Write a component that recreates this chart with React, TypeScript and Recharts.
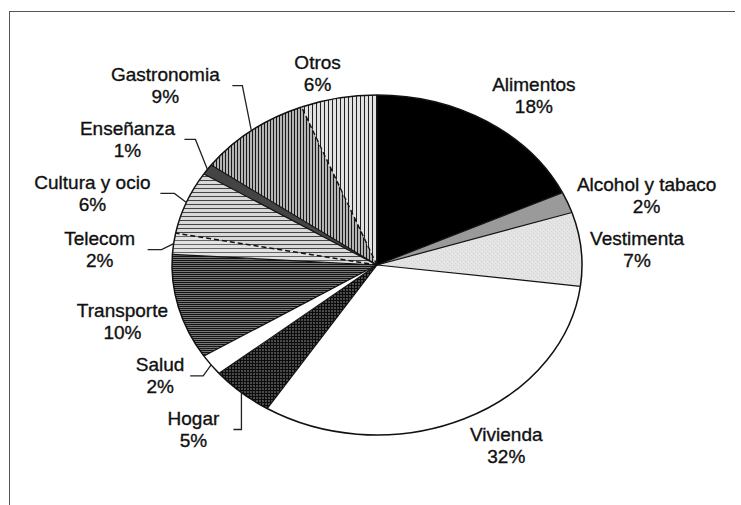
import React from 'react';
import { PieChart, Pie, Cell } from 'recharts';

// ---- data ----
const CATEGORIES = [
  'Alimentos',
  'Alcohol y tabaco',
  'Vestimenta',
  'Vivienda',
  'Hogar',
  'Salud',
  'Transporte',
  'Telecom',
  'Cultura y ocio',
  'Enseñanza',
  'Gastronomia',
  'Otros',
];
const SHARES = [18, 2, 7, 32, 5, 2, 10, 2, 6, 1, 9, 6];

const rows = CATEGORIES.map((name, i) => ({ name, value: SHARES[i] }));

// ---- styles / layout ----
const FILLS: Record<string, string> = {
  Alimentos: '#000000',
  'Alcohol y tabaco': '#9a9a9a',
  Vestimenta: 'url(#pVest)',
  Vivienda: '#ffffff',
  Hogar: 'url(#pHogar)',
  Salud: '#ffffff',
  Transporte: 'url(#pTrans)',
  Telecom: 'url(#pTele)',
  'Cultura y ocio': 'url(#pCult)',
  'Enseñanza': '#444444',
  Gastronomia: 'url(#pGastro)',
  Otros: 'url(#pOtros)',
};
const DASHED_START = new Set(['Cultura y ocio', 'Otros']);

// label centre offset from the slice's edge point at its mid angle; optional leader [start, elbow] x offsets
const LABEL_LAYOUT: Record<string, { dx: number; dy: number; lead?: [number, number] }> = {
  Alimentos: { dx: 47, dy: -26 },
  'Alcohol y tabaco': { dx: 79, dy: -7 },
  Vestimenta: { dx: 56, dy: 0 },
  Vivienda: { dx: 42, dy: 27 },
  Hogar: { dx: -48, dy: 37, lead: [40, 48] },
  Salud: { dx: -51, dy: 11, lead: [30, 43] },
  Transporte: { dx: -56, dy: 14 },
  Telecom: { dx: -74, dy: 6, lead: [48, 62] },
  'Cultura y ocio': { dx: -94, dy: -9, lead: [68, 82] },
  'Enseñanza': { dx: -80, dy: -30, lead: [57, 68] },
  Gastronomia: { dx: -86, dy: -45, lead: [67, 77] },
  Otros: { dx: -21, dy: -25 },
};

const W = 741;
const H = 505;
const CX = 377;
const CY = 265;
const RX = 205;
const RATIO = 170 / 205;
const FONT = '"Liberation Sans", Arial, Helvetica, sans-serif';

function pt(cx: number, cy: number, r: number, a: number): [number, number] {
  const rad = (-a * Math.PI) / 180;
  return [cx + r * Math.cos(rad), cy + r * RATIO * Math.sin(rad)];
}

function arcPath(props: any, closed: boolean) {
  const { cx, cy, outerRadius, startAngle, endAngle } = props;
  const [x1, y1] = pt(cx, cy, outerRadius, startAngle);
  const [x2, y2] = pt(cx, cy, outerRadius, endAngle);
  const large = Math.abs(endAngle - startAngle) > 180 ? 1 : 0;
  const sweep = endAngle < startAngle ? 1 : 0;
  const arc = `A${outerRadius},${outerRadius * RATIO} 0 ${large} ${sweep} ${x2},${y2}`;
  return closed ? `M${cx},${cy} L${x1},${y1} ${arc} Z` : `M${x1},${y1} ${arc}`;
}

function FillShape(props: any) {
  return <path d={arcPath(props, true)} fill={props.fill} stroke="none" />;
}

function OutlineShape(props: any) {
  const { cx, cy, outerRadius, startAngle } = props;
  const name = props.name ?? props.payload?.name;
  const [x1, y1] = pt(cx, cy, outerRadius, startAngle);
  const dashed = DASHED_START.has(name);
  return (
    <g>
      <path d={arcPath(props, false)} fill="none" stroke="#111" strokeWidth={1.5} />
      <line
        x1={cx}
        y1={cy}
        x2={x1}
        y2={y1}
        stroke="#111"
        strokeWidth={dashed ? 1.4 : 1.2}
        strokeDasharray={dashed ? '5 3' : undefined}
      />
    </g>
  );
}

function renderLabel(props: any) {
  const { cx, cy, midAngle, outerRadius, value } = props;
  const name = props.name ?? props.payload?.name;
  const lay = LABEL_LAYOUT[name];
  if (!lay) return null;
  const [ex, ey] = pt(cx, cy, outerRadius, midAngle);
  const lx = ex + lay.dx;
  const ly = ey + lay.dy;
  const textProps = {
    textAnchor: 'middle' as const,
    dominantBaseline: 'central' as const,
    fontFamily: FONT,
    fontSize: 19,
    fill: '#111',
    stroke: '#111',
    strokeWidth: 0.35,
  };
  return (
    <g>
      {lay.lead && (
        <polyline
          points={`${lx + lay.lead[0]},${ly} ${lx + lay.lead[1]},${ly} ${ex},${ey}`}
          fill="none"
          stroke="#222"
          strokeWidth={1.3}
        />
      )}
      <text x={lx} y={ly - 11} {...textProps}>
        {name}
      </text>
      <text x={lx} y={ly + 11} {...textProps}>
        {`${value}%`}
      </text>
    </g>
  );
}

export default function App() {
  return (
    <div style={{ position: 'absolute', left: 0, top: 0, width: W, height: H, background: '#fff', overflow: 'hidden' }}>
      <svg width={0} height={0} style={{ position: 'absolute' }}>
        <defs>
          <pattern id="pOtros" width={4} height={4} patternUnits="userSpaceOnUse">
            <rect width={4} height={4} fill="#e2e2e2" />
            <line x1={0.5} y1={0} x2={0.5} y2={4} stroke="#222" strokeWidth={1} />
          </pattern>
          <pattern id="pGastro" width={3} height={3} patternUnits="userSpaceOnUse">
            <rect width={3} height={3} fill="#b4b4b4" />
            <line x1={0.5} y1={0} x2={0.5} y2={3} stroke="#1a1a1a" strokeWidth={1} />
          </pattern>
          <pattern id="pCult" width={4} height={4} patternUnits="userSpaceOnUse">
            <rect width={4} height={4} fill="#d8d8d8" />
            <line x1={0} y1={0.5} x2={4} y2={0.5} stroke="#444" strokeWidth={1} />
          </pattern>
          <pattern id="pTele" width={4} height={4} patternUnits="userSpaceOnUse">
            <rect width={4} height={4} fill="#e2e2e2" />
            <line x1={0} y1={0.5} x2={4} y2={0.5} stroke="#666" strokeWidth={1} />
          </pattern>
          <pattern id="pTrans" width={2} height={2} patternUnits="userSpaceOnUse">
            <rect width={2} height={2} fill="#767676" />
            <line x1={0} y1={0.5} x2={2} y2={0.5} stroke="#151515" strokeWidth={1} />
          </pattern>
          <pattern id="pHogar" width={3} height={3} patternUnits="userSpaceOnUse">
            <rect width={3} height={3} fill="#4a4a4a" />
            <line x1={0} y1={0.5} x2={3} y2={0.5} stroke="#0c0c0c" strokeWidth={1} />
            <line x1={0.5} y1={0} x2={0.5} y2={3} stroke="#0c0c0c" strokeWidth={1} />
          </pattern>
          <pattern id="pVest" width={4} height={4} patternUnits="userSpaceOnUse">
            <rect width={4} height={4} fill="#e4e4e4" />
            <rect x={1} y={1} width={1} height={1} fill="#d0d0d0" />
            <rect x={3} y={3} width={1} height={1} fill="#d6d6d6" />
          </pattern>
        </defs>
      </svg>
      <div
        style={{
          position: 'absolute',
          left: 9,
          top: 11,
          width: 735 - 9,
          height: H,
          borderTop: '1.5px solid #555',
          borderLeft: '1.5px solid #555',
          boxSizing: 'border-box',
        }}
      />
      <div style={{ position: 'absolute', left: 0, top: 0 }}>
        <PieChart width={W} height={H} margin={{ top: 0, right: 0, bottom: 0, left: 0 }}>
          <Pie
            data={rows}
            dataKey="value"
            nameKey="name"
            cx={CX}
            cy={CY}
            outerRadius={RX}
            startAngle={90}
            endAngle={-270}
            stroke="none"
            shape={FillShape}
            label={renderLabel}
            labelLine={false}
            isAnimationActive={false}
          >
            {rows.map((r) => (
              <Cell key={r.name} fill={FILLS[r.name]} />
            ))}
          </Pie>
          <Pie
            data={rows}
            dataKey="value"
            nameKey="name"
            cx={CX}
            cy={CY}
            outerRadius={RX}
            startAngle={90}
            endAngle={-270}
            fill="none"
            stroke="none"
            shape={OutlineShape}
            label={false}
            labelLine={false}
            isAnimationActive={false}
          />
        </PieChart>
      </div>
    </div>
  );
}
